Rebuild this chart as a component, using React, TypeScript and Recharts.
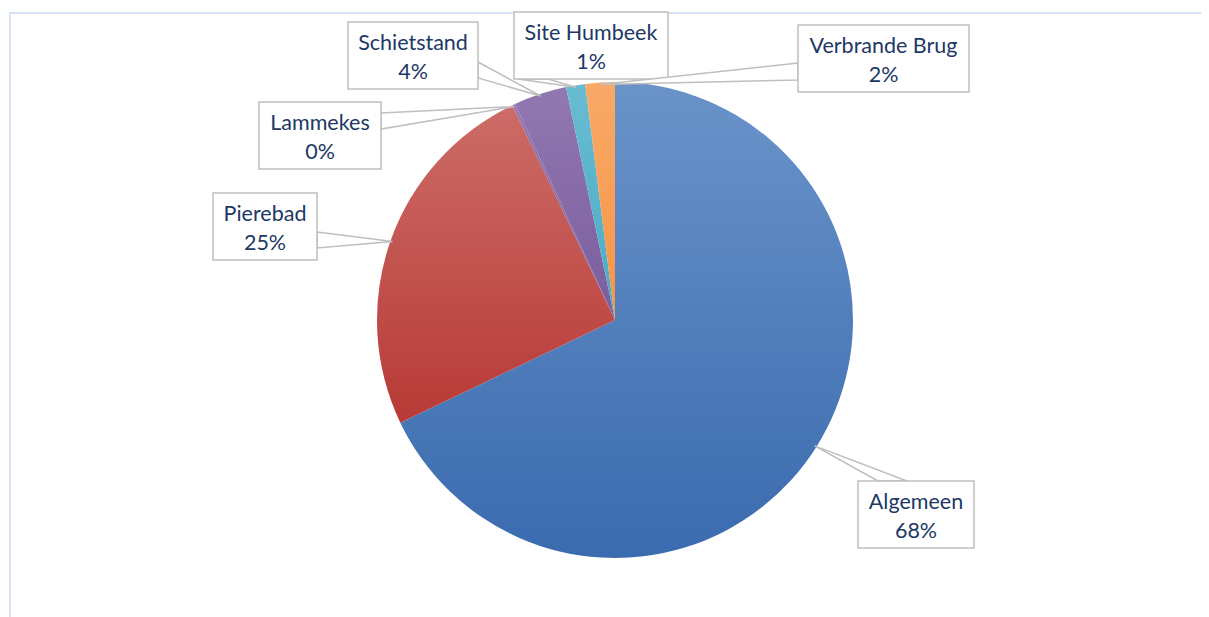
import { PieChart, Pie, Cell } from 'recharts'

const categories = ['Algemeen', 'Pierebad', 'Lammekes', 'Schietstand', 'Site Humbeek', 'Verbrande Brug']
const shares = [67.9, 25.0, 0.2, 3.6, 1.3, 2.0]

const gradients = [
  ['#6A93C9', '#3A6BAF'],
  ['#CC6C68', '#B83A36'],
  ['#9278B1', '#7A5D9D'],
  ['#9278B1', '#7A5D9D'],
  ['#68BCD2', '#4AABC5'],
  ['#F9A968', '#F69444'],
]

// callout boxes, chart coords: box + two base points of the wedge pointer
const callouts = [
  { x: 850, y: 473, w: 116, h: 67, base: [[870, 473], [899, 473]] },
  { x: 205, y: 185, w: 104, h: 67, base: [[309, 224], [309, 240]] },
  { x: 251, y: 94, w: 122, h: 67, base: [[373, 105], [373, 121]] },
  { x: 340, y: 14, w: 130, h: 67, base: [[470, 54], [470, 70]] },
  { x: 506, y: 4, w: 154, h: 67, base: [[510, 71], [540, 71]] },
  { x: 790, y: 17, w: 171, h: 67, base: [[790, 55], [790, 72]] },
]

const data = categories.map((name, i) => ({ name, value: shares[i] }))

const RAD = Math.PI / 180
const TEXT = '#203864'
const EDGE = '#BFBFBF'

function Callout(props: any) {
  const { cx, cy, midAngle, outerRadius, percent, index, name } = props
  const c = callouts[index]
  if (!c) return null
  const tx = cx + (outerRadius - 2) * Math.cos(-midAngle * RAD)
  const ty = cy + (outerRadius - 2) * Math.sin(-midAngle * RAD)
  const [[ax, ay], [bx, by]] = c.base
  const mid = c.x + c.w / 2
  return (
    <g>
      <polygon points={`${ax},${ay} ${tx},${ty} ${bx},${by}`} fill="#fff" stroke={EDGE} strokeWidth={1.5} />
      <rect x={c.x} y={c.y} width={c.w} height={c.h} fill="#fff" stroke={EDGE} strokeWidth={1.5} />
      <text x={mid} y={c.y + 28} textAnchor="middle" fill={TEXT} fontSize={21.5} fontFamily="Lato, sans-serif">
        {name}
      </text>
      <text x={mid} y={c.y + 57} textAnchor="middle" fill={TEXT} fontSize={21.5} fontFamily="Lato, sans-serif">
        {Math.round(percent * 100)}%
      </text>
    </g>
  )
}

export default function App() {
  return (
    <div style={{ position: 'relative', width: 1201, height: 609, overflow: 'hidden' }}>
      <div
        style={{
          position: 'absolute',
          left: 1,
          top: 4,
          width: 1300,
          height: 700,
          borderTop: '2px solid #D6E2F3',
          borderLeft: '2px solid #D6E2F3',
        }}
      />
      <PieChart width={1201} height={609} style={{ position: 'absolute', left: 0, top: 0 }}>
        <defs>
          {gradients.map((g, i) => (
            <linearGradient key={i} id={`slice${i}`} x1="0" y1="0" x2="0" y2="1">
              <stop offset="0%" stopColor={g[0]} />
              <stop offset="100%" stopColor={g[1]} />
            </linearGradient>
          ))}
        </defs>
        <Pie
          data={data}
          dataKey="value"
          nameKey="name"
          cx={602}
          cy={307}
          outerRadius={238}
          startAngle={90}
          endAngle={-270}
          stroke="none"
          label={Callout}
          labelLine={false}
          isAnimationActive={false}
        >
          {data.map((d, i) => (
            <Cell key={d.name} fill={`url(#slice${i})`} />
          ))}
        </Pie>
      </PieChart>
    </div>
  )
}
